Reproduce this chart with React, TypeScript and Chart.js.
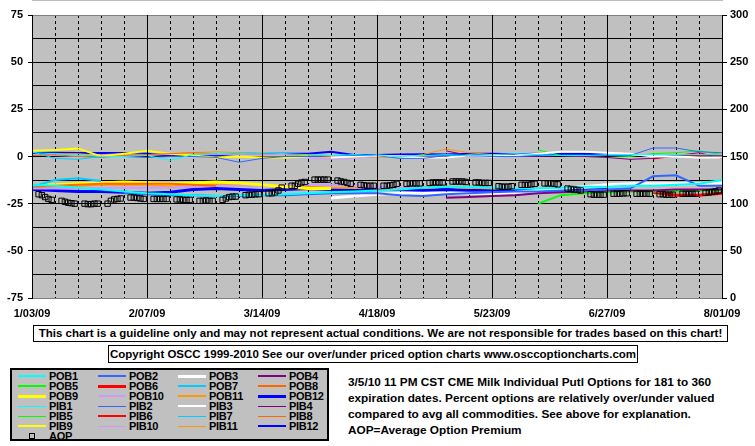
import React, { useEffect, useRef } from 'react';
import { Chart, registerables } from 'chart.js';

Chart.register(...registerables);

const FONT = '"Liberation Sans", Arial, Helvetica, sans-serif';

// Weekly sample days since 1/03/09
const weekDays = [0, 7, 14, 21, 28, 35, 42, 49, 56, 63, 70, 77, 84, 91, 98, 105, 112, 119, 126, 133, 140, 147, 154, 161, 168, 175, 182, 189, 196, 203, 210];
const dateTickLabels = ['1/03/09', '2/07/09', '3/14/09', '4/18/09', '5/23/09', '6/27/09', '8/01/09'];
// Mon..Fri offsets inside each week (1/03/09 is a Saturday)
const tradingDayOffsets = [2, 3, 4, 5, 6];

// Over/under values (%), left axis. Each starts at the week index given in seriesStart.
const POB1 = [-15, -15.5, -16.5, -17.5, -18.5, -19.5, -20, -20.5, -21, -20.5, -20.5, -20, -19.5, -19, -18.5, -18, -17.5, -16.5, -16, -16, -16.5, -17, -17, -16.5, -16, -16, -15.5, -15.5, -15, -14.5, -12.5];
const POB2 = [-19.5, -20, -20.5, -20.5, -21, -21, -20.5, -20.5, -20, -19.5, -19.5, -19.5, -20.5, -21, -20, -19.5, -19, -18.5, -18.5, -18, -18, -17.5, -17, -10.5, -10, -15.5, -15.5];
const POB3 = [-22, -21, -20, -19.5, -19.5, -19.5, -19.5, -19.5, -19, -18, -17, -16, -15, -14.5, -14.5, -14.5, -14.5, -14];
const POB4 = [-21.8, -21.5, -21, -20.5, -19.5, -19, -18.5, -18, -18, -18, -17.5, -17.5, -17.5];
const POB5 = [-25, -20.5, -19.5, -19, -18.5, -18.5, -18.5, -18, -18];
const POB6 = [-19, -20.5, -20.5, -19.5];
const POB7 = [-16, -12.5, -11.5, -13];
const POB8 = [-16, -15.5, -15, -14.5, -14.5, -14.5, -14.5, -15, -15.5];
const POB9 = [-15.5, -15, -14.5, -14, -13.5, -14, -14.5, -14, -13.5, -14, -15, -16, -17, -17];
const POB10 = [-17, -17, -17, -16.5, -16.5, -16.5, -16.5, -16, -15.5, -15.5, -15.5, -15.5, -15, -15, -15.5, -16, -16.5, -16.5];
const POB11 = [-16.5, -16, -15.5, -15, -15, -15, -15.5, -14.5, -14.5, -15, -15.5, -16, -16, -16.5, -16.5, -16.5, -17, -16.5, -16, -16.5, -17, -17];
const POB12 = [-17.5, -18, -18.5, -18.5, -19, -19.5, -19, -17.5, -17, -17.5, -18, -17.5, -17, -17.5, -18, -17.5, -17.5, -18, -17.5, -18, -18, -17.5, -17.5, -18, -18, -17.5];

const PIB1 = [2, 1.5, 0.5, 0, 0, 0.5, -2, 1, 1.5, 1.5, 2, 1.5, 1, 0.5, 1, 0.5, 0, 0.5, 1, 0.5, 1, 1.5, 1, 0.5, 0.5, 1, 1, 1, 1, 1, 1];
const PIB2 = [0, -0.5, 0, 0, -0.5, -3, -1, 0, 0, 0.5, 0.5, 0.5, -1, -1, 0.5, 0.5, 0, 0, 0.5, 0.5, 0.5, 0.5, 0.5, 4.5, 4.5, 2.5, 2];
const PIB3 = [-0.5, 0, 0.5, 0, -0.5, -0.5, 0.5, 0, 0.5, 1.5, 2.5, 2.5, 2, 1.5, 0, 0, -0.5, -0.5];
const PIB4 = [3, 0.5, 0, 0, 0, 0.5, 0, -0.5, -1.5, -1, 0.5, 2, -1];
const PIB5 = [3.5, 0.5, 0, 0.5, 0, 1.5, 2, 3, 1];
const PIB6 = [-1, 0.5, 0.5, 0.5];
const PIB7 = [2.5, -1, -1.5, 0];
const PIB8 = [0.5, 1, 0, -0.5, 0.5, 1, 1.5, 2, 1.5];
const PIB9 = [3, 3.5, 4.3, 0, 1.5, 3, 1.5, 0.5, -0.5, 0, -0.5, -0.5, 0];
const PIB10 = [1, 0.5, 0, 1, 1.5, 1, 1, 1, 1, 1, 1, 1, -1, -1.5, -1, 0, 0.5, 0.5];
const PIB11 = [0.5, 1.5, 1.5, 0.5, 0, 1, 1.5, 2, 2.5, 2, 1.5, 1, 0.5, 0, -0.5, -0.5, -0.5, 1, 4, 2, 1, 0.5];
const PIB12 = [1.8, 2, 1.8, 1.8, 1.8, 1.5, 0.5, 0.5, 0.5, 1.5, 1.5, 1.5, 1.5, 2.5, 0.8, 0.8, 1, 1.2, 1, 1.5, 1.5, 1.2, 1.5, 1.5, 1.5, 1];

const seriesStart: Record<string, number> = {
  POB1: 0, POB2: 4, POB3: 13, POB4: 18, POB5: 22, POB6: 27, POB7: 0, POB8: 0, POB9: 0, POB10: 0, POB11: 0, POB12: 0,
  PIB1: 0, PIB2: 4, PIB3: 13, PIB4: 18, PIB5: 22, PIB6: 27, PIB7: 0, PIB8: 0, PIB9: 0, PIB10: 0, PIB11: 0, PIB12: 0,
};

// Average option premium, right axis, one row per week (Mon..Fri)
const AOP = [
  [110, 109, 107, 105, 104],
  [103, 102, 101, 100.5, 100],
  [100, 99.5, 99.5, 100, 100],
  [100, 103, 104.5, 105, 105.5],
  [106.5, 106.5, 106, 105.5, 105],
  [105, 105, 105, 105, 105],
  [104.5, 104.5, 104, 104, 104],
  [103, 103, 103.5, 103, 103],
  [104, 105.5, 107, 107.5, 107.5],
  [109, 109.5, 109.5, 110, 110],
  [111, 111, 112, 114, 117],
  [119, 119, 121, 122.5, 123],
  [125.5, 125.5, 125.5, 125.5, 125.5],
  [124.5, 123.5, 123, 122, 121],
  [120, 119.5, 119, 119, 119],
  [119, 119, 119.5, 120, 121],
  [121, 121.5, 121.5, 121.5, 121.5],
  [122, 122.5, 122.5, 122.5, 122.5],
  [123.5, 123.5, 123.5, 123.5, 123],
  [122.5, 122.5, 122, 122, 122],
  [118.5, 118, 118, 118, 118.5],
  [120, 120, 120, 120.5, 121],
  [121.5, 121.5, 121.5, 121, 120.5],
  [116, 115.5, 115, 114.5, 114],
  [110, 109.5, 109.5, 109.5, 109.5],
  [110.5, 110.5, 110.5, 111, 111],
  [110.5, 110.5, 110.5, 110.5, 110.5],
  [110, 110, 109.5, 109.5, 109.5],
  [110.5, 110.5, 110.5, 110.5, 110.5],
  [111.5, 112, 112.5, 113, 114],
];

const seriesColors = ['#00FFFF', '#3366FF', '#FFFFFF', '#800080', '#00FF00', '#FF0000', '#00CCFF', '#FF6600', '#FFFF00', '#CC99FF', '#FF9900', '#0000FF'];
const pobWidths = [2, 2, 3, 2, 2, 3, 2, 2, 3, 2, 2, 3];
const pibWidths = [1, 1, 2, 1, 1, 2, 1, 1, 2, 1, 1, 2];

const pobValues = [POB1, POB2, POB3, POB4, POB5, POB6, POB7, POB8, POB9, POB10, POB11, POB12];
const pibValues = [PIB1, PIB2, PIB3, PIB4, PIB5, PIB6, PIB7, PIB8, PIB9, PIB10, PIB11, PIB12];

type Series = { name: string; color: string; width: number; values: number[] };
const seriesList: Series[] = [
  ...pobValues.map((v, i) => ({ name: `POB${i + 1}`, color: seriesColors[i], width: pobWidths[i], values: v })),
  ...pibValues.map((v, i) => ({ name: `PIB${i + 1}`, color: seriesColors[i], width: pibWidths[i], values: v })),
];

const noteLines = [
  '3/5/10 11 PM CST CME Milk Individual Putl Options for 181 to 360',
  'expiration dates. Percent options are relatively over/under valued',
  'compared to avg all commodities. See above for explanation.',
  'AOP=Average Option Premium',
];
const disclaimer = 'This chart is a guideline only and may not represent actual conditions. We are not responsible for trades based on this chart!';
const copyright = 'Copyright OSCC 1999-2010 See our over/under priced option charts www.osccoptioncharts.com';

const bgPlugin = {
  id: 'plotBg',
  beforeDraw(chart: any) {
    const { ctx, chartArea } = chart;
    if (!chartArea) return;
    ctx.save();
    ctx.fillStyle = '#C0C0C0';
    ctx.fillRect(chartArea.left, chartArea.top, chartArea.right - chartArea.left, chartArea.bottom - chartArea.top);
    ctx.restore();
  },
};

const tickFont = { family: FONT, size: 11, weight: 'bold' as const };

export default function App() {
  const ref = useRef<HTMLCanvasElement>(null);

  useEffect(() => {
    if (!ref.current) return;
    const aopPoints: { x: number; y: number }[] = [];
    AOP.forEach((week, w) => {
      week.forEach((v, d) => aopPoints.push({ x: weekDays[w] + tradingDayOffsets[d], y: v }));
    });
    const datasets: any[] = [
      {
        label: 'AOP',
        data: aopPoints,
        yAxisID: 'y2',
        showLine: false,
        pointStyle: 'rect',
        pointRadius: 3.8,
        pointBorderWidth: 1,
        pointBorderColor: '#000000',
        pointBackgroundColor: 'rgba(0,0,0,0)',
        borderColor: '#000000',
        order: 0,
      },
      ...seriesList.map((s) => ({
        label: s.name,
        data: s.values.map((v, i) => ({ x: weekDays[seriesStart[s.name] + i], y: v })),
        yAxisID: 'y',
        borderColor: s.color,
        backgroundColor: s.color,
        borderWidth: s.width,
        pointRadius: 0,
        tension: 0,
        fill: false,
        order: 1,
      })),
    ];

    const chart = new Chart(ref.current, {
      type: 'line',
      data: { datasets },
      plugins: [bgPlugin],
      options: {
        animation: false,
        responsive: false,
        devicePixelRatio: 1,
        events: [],
        layout: { padding: { top: 15, left: 0, right: 0, bottom: 0 } },
        plugins: { legend: { display: false }, tooltip: { enabled: false }, title: { display: false } },
        scales: {
          xMinor: {
            type: 'linear',
            position: 'bottom',
            min: 0,
            max: 210,
            ticks: { display: false, stepSize: 7 },
            grid: { color: '#000000', lineWidth: 1, drawTicks: false },
            border: { display: false, dash: [3, 3] },
            afterFit: (s: any) => { s.height = 0; },
          },
          x: {
            type: 'linear',
            position: 'bottom',
            min: 0,
            max: 210,
            ticks: {
              stepSize: 35,
              autoSkip: false,
              maxRotation: 0,
              minRotation: 0,
              padding: 9,
              color: '#000000',
              font: tickFont,
              callback: (v: any) => dateTickLabels[Math.round(Number(v) / 35)] ?? '',
            },
            grid: { color: '#000000', lineWidth: 1, drawTicks: false, z: 1 },
            border: { color: '#808080', width: 1 },
            afterFit: (s: any) => { s.height = 27; },
          },
          y: {
            type: 'linear',
            position: 'left',
            min: -75,
            max: 75,
            ticks: {
              stepSize: 12.5,
              padding: 5,
              color: '#000000',
              font: tickFont,
              callback: (v: any) => (Math.abs(Number(v) % 25) < 1e-9 ? String(v) : ''),
            },
            grid: {
              color: (c: any) => (c.tick && Math.abs(c.tick.value) === 75 ? '#808080' : '#000000'),
              lineWidth: 1,
              tickLength: 4,
              tickColor: (c: any) => (c.tick && Math.abs(c.tick.value % 25) < 1e-9 ? '#000000' : 'rgba(0,0,0,0)'),
            },
            border: { color: '#000000', width: 1 },
            afterFit: (s: any) => { s.width = 32; },
          },
          y2: {
            type: 'linear',
            position: 'right',
            min: 0,
            max: 300,
            ticks: { stepSize: 50, padding: 3, color: '#000000', font: tickFont },
            grid: { drawOnChartArea: false, tickLength: 5, tickColor: '#000000' },
            border: { color: '#000000', width: 1 },
            afterFit: (s: any) => { s.width = 33; },
          },
        },
      } as any,
    });
    return () => chart.destroy();
  }, []);

  const legendItems = [...seriesList.map((s) => ({ name: s.name, color: s.color, width: s.width, marker: false })), { name: 'AOP', color: '#000', width: 1, marker: true }];

  return (
    <div style={{ position: 'absolute', left: 0, top: 0, width: 755, height: 446, background: '#FFFFFF', fontFamily: FONT, color: '#000', overflow: 'hidden' }}>
      <canvas ref={ref} width={755} height={325} style={{ position: 'absolute', left: 0, top: 0, width: 755, height: 325 }} />
      <div style={{ position: 'absolute', left: 33, top: 325, width: 695, height: 17, boxSizing: 'border-box', border: '1px solid #000', background: '#fff', fontSize: 11.5, fontWeight: 'bold', lineHeight: '15px', textAlign: 'center', whiteSpace: 'nowrap' }}>
        {disclaimer}
      </div>
      <div style={{ position: 'absolute', left: 108, top: 345, width: 530, height: 18, boxSizing: 'border-box', border: '1px solid #000', background: '#fff', fontSize: 11.5, fontWeight: 'bold', lineHeight: '16px', textAlign: 'center', whiteSpace: 'nowrap' }}>
        {copyright}
      </div>
      <div style={{ position: 'absolute', left: 10, top: 368, width: 319, height: 73, boxSizing: 'border-box', border: '2px solid #000', background: '#C0C0C0' }} />
      {legendItems.map((it, k) => {
        const row = Math.floor(k / 4);
        const col = k % 4;
        const top = 371 + row * 10;
        return (
          <React.Fragment key={it.name}>
            {it.marker ? (
              <div style={{ position: 'absolute', left: 29, top: top + 2, width: 6, height: 6, boxSizing: 'border-box', border: '1px solid #000' }} />
            ) : (
              <div style={{ position: 'absolute', left: 18 + col * 80, top: top + 5 - it.width / 2, width: 28, height: it.width, background: it.color }} />
            )}
            <div style={{ position: 'absolute', left: 49 + col * 80, top, height: 10, fontSize: 11, fontWeight: 'bold', lineHeight: '10px', letterSpacing: '-0.3px', whiteSpace: 'nowrap' }}>
              {it.name}
            </div>
          </React.Fragment>
        );
      })}
      <div style={{ position: 'absolute', left: 348, top: 374, fontSize: 11.8, fontWeight: 'bold', lineHeight: '16px', whiteSpace: 'pre' }}>
        {noteLines.join('\n')}
      </div>
    </div>
  );
}
